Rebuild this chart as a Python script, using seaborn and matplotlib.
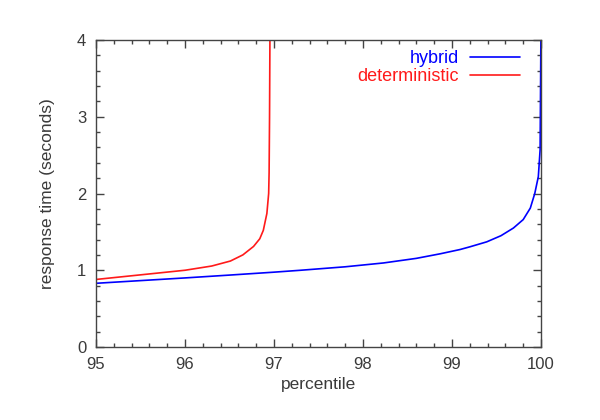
import matplotlib
matplotlib.use("Agg")
import matplotlib.pyplot as plt
import seaborn as sns
import pandas as pd
from matplotlib.ticker import MultipleLocator

# Data
hybrid_x = [95.0, 95.5, 96.0, 96.5, 97.0, 97.3, 97.8, 98.23, 98.6, 98.87, 99.09,
            99.2, 99.39, 99.55, 99.69, 99.8, 99.88, 99.93, 99.97, 99.99, 100.0]
hybrid_y = [0.83, 0.865, 0.90, 0.937, 0.975, 1.0, 1.045, 1.095, 1.155, 1.215, 1.27,
            1.305, 1.37, 1.45, 1.55, 1.66, 1.81, 2.0, 2.22, 2.57, 4.2]
det_x = [95.0, 95.5, 96.0, 96.3, 96.51, 96.65, 96.77, 96.84, 96.88, 96.92,
         96.94, 96.945, 96.95, 96.955]
det_y = [0.88, 0.94, 1.0, 1.055, 1.12, 1.2, 1.31, 1.41, 1.52, 1.74,
         2.0, 2.27, 3.0, 4.2]

series_names = ["hybrid", "deterministic"]
x_ticks = [95, 96, 97, 98, 99, 100]
y_ticks = [0, 1, 2, 3, 4]

df = pd.concat([
    pd.DataFrame({"percentile": hybrid_x, "response": hybrid_y, "series": "hybrid"}),
    pd.DataFrame({"percentile": det_x, "response": det_y, "series": "deterministic"}),
])

sns.set_theme(style="ticks")
plt.rcParams["font.family"] = ["Liberation Sans", "DejaVu Sans"]

txt = "#3a3a3a"
fig = plt.figure(figsize=(6, 4.2), dpi=100)
ax = fig.add_axes([96 / 600, 1 - 347 / 420, (541 - 96) / 600, (347 - 40) / 420])

sns.lineplot(data=df, x="percentile", y="response", hue="series",
             hue_order=series_names, palette={"hybrid": "#0000ff", "deterministic": "#ff1a1a"},
             sort=False, estimator=None, linewidth=1.2, ax=ax)

ax.set_xlim(95, 100)
ax.set_ylim(0, 4)
ax.set_xticks(x_ticks)
ax.set_yticks(y_ticks)
ax.xaxis.set_minor_locator(MultipleLocator(0.2))
ax.yaxis.set_minor_locator(MultipleLocator(0.2))
ax.tick_params(which="both", direction="in", top=True, right=True,
               color="#444444", width=1.0)
ax.tick_params(which="major", length=6, labelsize=12, labelcolor=txt)
ax.tick_params(axis="x", which="major", pad=7.5)
ax.tick_params(axis="y", which="major", pad=7)
ax.tick_params(which="minor", length=3)
for s in ax.spines.values():
    s.set_color("#444444")
    s.set_linewidth(1.0)

ax.set_xlabel("percentile", fontsize=12.5, color=txt, labelpad=3)
ax.set_ylabel("response time (seconds)", fontsize=12.5, color=txt, labelpad=16)

leg = ax.legend(loc="upper right", bbox_to_anchor=(0.953, 0.967), frameon=False,
                markerfirst=False, fontsize=13, handlelength=2.8, handletextpad=0.6,
                labelspacing=0.05, borderaxespad=0.0, borderpad=0.0,
                labelcolor="linecolor")
for line in leg.get_lines():
    line.set_linewidth(1.2)

fig.savefig("out.png", dpi=100)
